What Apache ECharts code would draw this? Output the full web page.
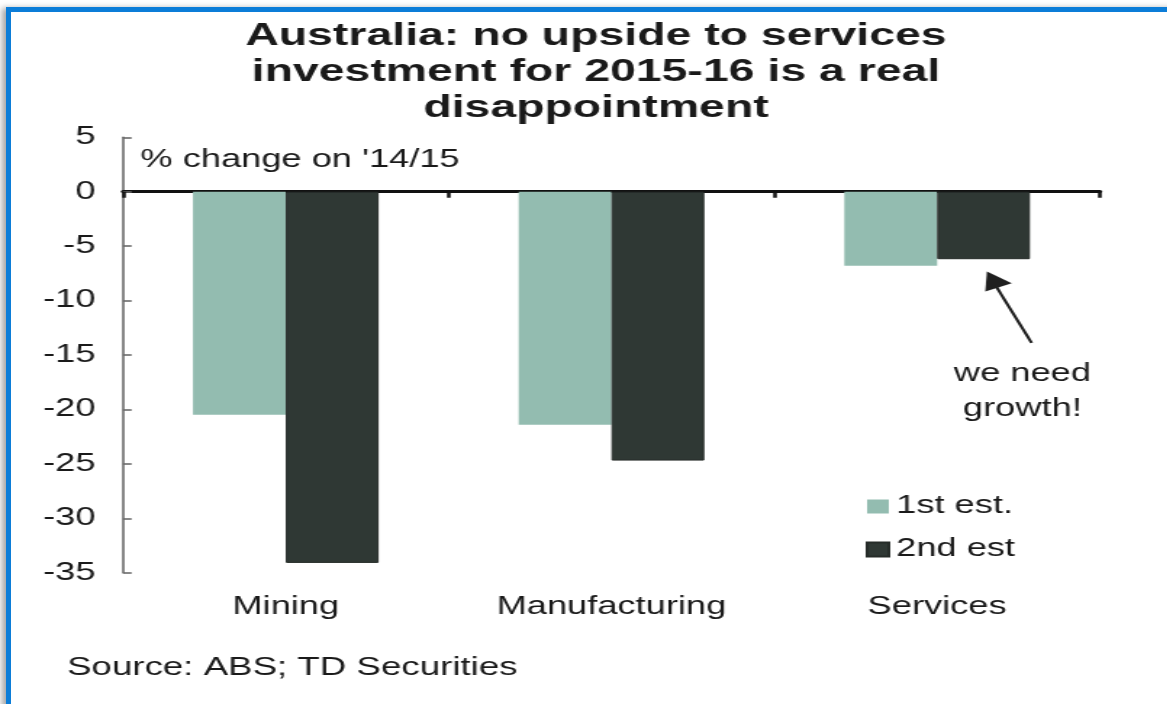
<!DOCTYPE html>
<html>
<head>
<meta charset="utf-8">
<title>Australia: services investment</title>
<script src="https://cdn.jsdelivr.net/npm/echarts@6/dist/echarts.min.js"></script>
<style>
  html, body { margin: 0; padding: 0; background: #fff; }
  #page { position: relative; width: 1167px; height: 704px; overflow: hidden; background: #fff; }
  #frame {
    position: absolute; left: 6px; top: 7px; width: 1400px; height: 900px;
    border-top: 5px solid #0c7dd8; border-left: 5px solid #0c7dd8;
    box-shadow: -4px 1px 6px rgba(0, 0, 0, 0.35);
  }
  /* the chart is laid out narrow and widened, giving the broad lettering of the slide */
  #chart {
    position: absolute; left: 0; top: 0; width: 805px; height: 704px;
    transform: scaleX(1.45); transform-origin: 0 0;
  }
</style>
</head>
<body>
<div id="page">
  <div id="frame"></div>
  <div id="chart"></div>
</div>
<script>
const titleLines = ['Australia: no upside to services', 'investment for 2015-16 is a real', 'disappointment'];
const categories = ['Mining', 'Manufacturing', 'Services'];
const seriesNames = ['1st est.', '2nd est'];
const firstEstimate = [-20.5, -21.4, -6.8];
const secondEstimate = [-34.1, -24.7, -6.2];
const yTicks = { min: -35, max: 5, interval: 5 };
const axisName = "% change on '14/15";
const noteLines = ['we need', 'growth!'];
const sourceText = 'Source: ABS; TD Securities';

const FONT = "'Liberation Sans', Arial, Helvetica, sans-serif";
const INK = '#1a1a1a';
const LIGHT = '#93bcb0';
const DARK = '#2f3834';

const chart = echarts.init(document.getElementById('chart'), null, { renderer: 'canvas' });

const option = {
  backgroundColor: 'transparent',
  animation: false,
  title: {
    text: titleLines.join('\n'),
    left: 411,
    top: 18,
    padding: 0,
    textAlign: 'center',
    textStyle: { fontFamily: FONT, fontSize: 32, fontWeight: 'bold', color: INK, lineHeight: 36 }
  },
  legend: {
    orient: 'vertical',
    left: 597,
    top: 494,
    padding: 0,
    itemWidth: 15,
    itemHeight: 14,
    itemGap: 18,
    icon: 'rect',
    data: seriesNames,
    textStyle: { fontFamily: FONT, fontSize: 25, color: INK, lineHeight: 25 }
  },
  grid: { left: 84.8, right: 46.4, top: 137.3, bottom: 131.3, containLabel: false },
  xAxis: [
    {
      type: 'category',
      data: categories,
      position: 'bottom',
      axisLine: { onZero: false, show: false },
      axisTick: { show: false },
      axisLabel: { margin: 22, fontFamily: FONT, fontSize: 25, color: INK },
      splitLine: { show: false }
    },
    {
      type: 'category',
      data: categories,
      position: 'top',
      axisLine: { onZero: true, show: true, lineStyle: { color: '#111', width: 3 } },
      axisTick: { show: true, inside: true, length: 6, lineStyle: { color: '#111', width: 2.5 } },
      axisLabel: { show: false },
      splitLine: { show: false }
    }
  ],
  yAxis: {
    type: 'value',
    min: yTicks.min,
    max: yTicks.max,
    interval: yTicks.interval,
    name: axisName,
    nameLocation: 'end',
    nameGap: -23,
    nameTextStyle: { fontFamily: FONT, fontSize: 25, color: INK, align: 'left', verticalAlign: 'middle', padding: [0, 0, 0, 12] },
    axisLine: { show: true, lineStyle: { color: '#6a6a6a', width: 1.6 } },
    axisTick: { show: true, inside: true, length: 6, lineStyle: { color: '#6a6a6a', width: 1.6 } },
    axisLabel: { margin: 19, fontFamily: FONT, fontSize: 25, color: INK },
    splitLine: { show: false }
  },
  series: [
    {
      name: seriesNames[0],
      type: 'bar',
      xAxisIndex: 0,
      data: firstEstimate,
      barGap: '0%',
      barCategoryGap: '43%',
      itemStyle: { color: LIGHT }
    },
    {
      name: seriesNames[1],
      type: 'bar',
      xAxisIndex: 0,
      data: secondEstimate,
      barGap: '0%',
      barCategoryGap: '43%',
      itemStyle: { color: DARK, borderColor: '#262c29', borderWidth: 1 }
    }
  ]
};

chart.setOption(option);

// Callout arrow under the Services "2nd est" bar, placed from the bar's own layout
function barBox(seriesIndex, dataIndex) {
  try {
    const lay = chart.getModel().getSeriesByIndex(seriesIndex).getData().getItemLayout(dataIndex);
    if (lay && isFinite(lay.x)) return lay;
  } catch (e) { /* fall through */ }
  const grid = chart.getModel().getComponent('grid').coordinateSystem.getRect();
  const band = grid.width / categories.length;
  const bw = band * (1 - 0.43) / 2;
  const c = chart.convertToPixel({ xAxisIndex: 0 }, categories[dataIndex]);
  const y0 = chart.convertToPixel({ yAxisIndex: 0 }, 0);
  const y1 = chart.convertToPixel({ yAxisIndex: 0 }, secondEstimate[dataIndex]);
  return { x: c - bw + seriesIndex * bw, y: y0, width: bw, height: y1 - y0 };
}

const box = barBox(1, 2);
const tipX = box.x + box.width / 2 + 2.3;
const tipY = box.y + box.height + 12.4;

chart.setOption({
  graphic: [
    {
      type: 'polyline',
      shape: { points: [[tipX + 30.8, tipY + 71.3], [tipX + 6.5, tipY + 15]] },
      style: { stroke: '#1f1f1f', lineWidth: 2.2 }
    },
    {
      type: 'polygon',
      shape: { points: [[tipX, tipY], [tipX - 1.1, tipY + 20], [tipX + 17.2, tipY + 11.6]] },
      style: { fill: '#1f1f1f' }
    },
    {
      type: 'text',
      x: tipX + 24.5,
      y: tipY + 84.5,
      style: {
        text: noteLines.join('\n'),
        font: '25px ' + FONT,
        fill: INK,
        align: 'center',
        textAlign: 'center',
        verticalAlign: 'top',
        textVerticalAlign: 'top',
        lineHeight: 35
      }
    },
    {
      type: 'text',
      left: 46.2,
      top: 656,
      style: {
        text: sourceText,
        font: '25.3px ' + FONT,
        fill: INK
      }
    }
  ]
});
</script>
</body>
</html>
